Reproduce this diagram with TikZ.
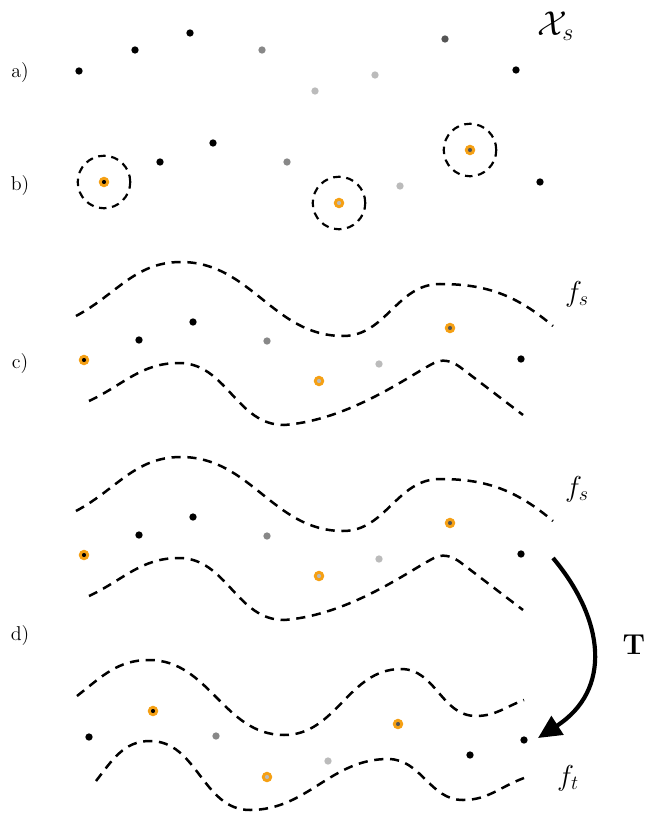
\documentclass[tikz,border=0pt]{standalone}
\usetikzlibrary{arrows.meta}
\definecolor{myorange}{RGB}{245,160,20}
\definecolor{gA}{RGB}{136,136,136}
\definecolor{gB}{RGB}{187,187,187}
\definecolor{gC}{RGB}{85,85,85}
\begin{document}
\begin{tikzpicture}[x=0.6pt,y=-0.6pt,
  dot/.style={circle,fill=#1,inner sep=0pt,minimum size=4.4pt},
  odot/.style={circle,fill=#1,draw=myorange,line width=1.7pt,inner sep=0pt,minimum size=4.5pt},
  ring/.style={circle,draw=black,line width=1.3pt,dash pattern=on 4.5pt off 3.4pt,inner sep=0pt,minimum size=31.5pt},
  band/.style={line width=1.5pt,dash pattern=on 5.5pt off 4pt},
  lab/.style={font=\fontsize{12}{14}\selectfont},
  big/.style={font=\fontsize{18}{21}\selectfont}]
\useasboundingbox (0,0) rectangle (652,813);
% ---- a)
\node[lab] (la) at (20,73) {a)};
\node[dot=black] (a1) at (79,71) {};
\node[dot=black] (a2) at (135,50) {};
\node[dot=black] (a3) at (190,33) {};
\node[dot=gA] (a4) at (262,50) {};
\node[dot=gB] (a5) at (315,91) {};
\node[dot=gB] (a6) at (375,75) {};
\node[dot=gC] (a7) at (445,39) {};
\node[dot=black] (a8) at (516,70) {};
\node[font=\fontsize{21}{24}\selectfont] (Xs) at (556,26) {$\mathcal{X}_s$};
% ---- b)
\node[lab] (lb) at (20,186) {b)};
\node[odot=black] (b1) at (104,182) {};
\node[ring] (r1) at (b1) {};
\node[dot=black] (b2) at (160,162) {};
\node[dot=black] (b3) at (213,143) {};
\node[dot=gA] (b4) at (287,162) {};
\node[odot=gB] (b5) at (339,203) {};
\node[ring] (r2) at (b5) {};
\node[dot=gB] (b6) at (400,186) {};
\node[odot=gC] (b7) at (470,150) {};
\node[ring] (r3) at (b7) {};
\node[dot=black] (b8) at (540,182) {};
% ---- c)
\node[lab] (lc) at (20,364) {c)};
\draw[band] (76,316) to[out=28,in=180] (181,262) to[out=0,in=180] (343,336)
  to[out=0,in=180] (440,284) to[out=0,in=140] (553,326);
\draw[band] (89,401) to[out=25,in=180] (179,363) to[out=0,in=180] (284,425)
  .. controls (350,420) and (410,375) .. (434,363) .. controls (442,359) and (450,360) .. (460,367) -- (523,415);
\node[odot=black] (c1) at (84,360) {};
\node[dot=black] (c2) at (139,340) {};
\node[dot=black] (c3) at (193,322) {};
\node[dot=gA] (c4) at (267,341) {};
\node[odot=gB] (c5) at (319,381) {};
\node[dot=gB] (c6) at (379,364) {};
\node[odot=gC] (c7) at (450,328) {};
\node[dot=black] (c8) at (521,359) {};
\node[big] (fs1) at (577,294) {$f_s$};
% ---- d) upper
\node[lab] (ld) at (20,636) {d)};
\draw[band] (76,511) to[out=28,in=180] (181,457) to[out=0,in=180] (343,531)
  to[out=0,in=180] (440,479) to[out=0,in=140] (553,521);
\draw[band] (89,596) to[out=25,in=180] (179,558) to[out=0,in=180] (284,620)
  .. controls (350,615) and (410,570) .. (434,558) .. controls (442,554) and (450,555) .. (460,562) -- (523,610);
\node[odot=black] (d1) at (84,555) {};
\node[dot=black] (d2) at (139,535) {};
\node[dot=black] (d3) at (193,517) {};
\node[dot=gA] (d4) at (267,536) {};
\node[odot=gB] (d5) at (319,576) {};
\node[dot=gB] (d6) at (379,559) {};
\node[odot=gC] (d7) at (450,523) {};
\node[dot=black] (d8) at (521,554) {};
\node[big] (fs2) at (577,489) {$f_s$};
% ---- d) lower
\draw[band] (77,696) to[out=38,in=180] (149,660) to[out=0,in=180] (284,735)
  to[out=0,in=180] (401,669) to[out=0,in=180] (476,716) to[out=0,in=200] (524,700);
\draw[band] (96,781) to[out=52,in=180] (150,741) to[out=0,in=180] (250,810)
  to[out=0,in=180] (388,759) to[out=0,in=180] (463,800) to[out=0,in=200] (524,778);
\node[dot=black] (e1) at (89,737) {};
\node[odot=black] (e2) at (153,711) {};
\node[dot=gA] (e3) at (216,736) {};
\node[odot=gB] (e4) at (267,777) {};
\node[dot=gB] (e5) at (328,761) {};
\node[odot=gC] (e6) at (398,724) {};
\node[dot=black] (e7) at (470,755) {};
\node[dot=black] (e8) at (524,740) {};
\node[big] (ft) at (568,778) {$f_t$};
% ---- arrow T
\coordinate (Ts) at (553,558);
\coordinate (Te) at (538,738);
\draw[line width=2.5pt,-{Triangle[length=14pt,width=13pt]}] (Ts) .. controls (605,620) and (612,690) .. (Te);
\node[big] (T) at (634,645) {$\mathbf{T}$};
\end{tikzpicture}
\end{document}
